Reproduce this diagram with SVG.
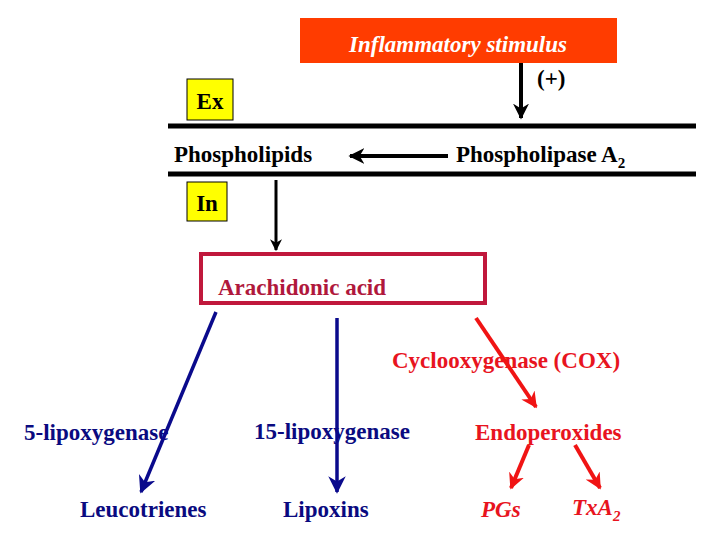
<svg xmlns="http://www.w3.org/2000/svg" width="720" height="540" viewBox="0 0 720 540">
<defs>
<style>
text{font-family:"Liberation Serif","Times New Roman",serif;font-weight:bold;font-size:23px}
.k{fill:#000}.b{fill:#0a0a80}.r{fill:#e8141e}
</style>
<marker id="mk" viewBox="0 0 10 10" refX="9" refY="5" markerWidth="4" markerHeight="5" orient="auto" markerUnits="strokeWidth"><path d="M0,0 L10,5 L0,10 L3,5 z" fill="#000"/></marker>
<marker id="mb" viewBox="0 0 10 10" refX="9" refY="5" markerWidth="5" markerHeight="5" orient="auto" markerUnits="strokeWidth"><path d="M0,0 L10,5 L0,10 L3,5 z" fill="#0a0a8c"/></marker>
<marker id="mr" viewBox="0 0 10 10" refX="9" refY="5" markerWidth="4" markerHeight="4" orient="auto" markerUnits="strokeWidth"><path d="M0,0 L10,5 L0,10 L3,5 z" fill="#f01414"/></marker>
</defs>
<rect width="720" height="540" fill="#fff"/>
<g id="membrane" stroke="#000" stroke-width="5">
<line x1="168" y1="126" x2="696" y2="126"/>
<line x1="168" y1="174" x2="696" y2="174"/>
</g>
<g id="stimulus"><rect x="300" y="18" width="317" height="45" fill="#ff3c00"/>
<text x="458" y="52" text-anchor="middle" fill="#fff" font-style="italic" font-size="27">Inflammatory stimulus</text></g>
<g id="plus"><text x="537" y="86" class="k" font-weight="normal" font-size="24">(+)</text></g>
<g id="ex"><rect x="187" y="79" width="46" height="41" fill="#ffff00" stroke="#000"/><text x="210" y="109" text-anchor="middle" class="k">Ex</text></g>
<g id="in"><rect x="187" y="182" width="40" height="39" fill="#ffff00" stroke="#000"/><text x="207" y="211" text-anchor="middle" class="k">In</text></g>
<g id="phospholipids"><text x="174" y="162" class="k">Phospholipids</text></g>
<g id="pla2"><text x="456" y="162" class="k">Phospholipase A<tspan font-size="15" dy="6">2</tspan></text></g>
<g id="aa"><rect x="201" y="254" width="284" height="49" fill="none" stroke="#c0183c" stroke-width="4"/>
<text x="218" y="295" fill="#b0183c" font-size="26">Arachidonic acid</text></g>
<g id="labels">
<text x="392" y="368" class="r">Cyclooxygenase (COX)</text>
<text x="24" y="440" class="b">5-lipoxygenase</text>
<text x="254" y="439" class="b">15-lipoxygenase</text>
<text x="475" y="440" class="r">Endoperoxides</text>
<text x="80" y="517" class="b">Leucotrienes</text>
<text x="283" y="517" class="b">Lipoxins</text>
<text x="481" y="517" class="r" font-style="italic" font-weight="normal">PGs</text>
<text x="572" y="515" class="r" font-style="italic" font-weight="normal">TxA<tspan font-size="15" dy="6" font-weight="bold">2</tspan></text>
</g>
<g id="connectors" fill="none">
<line x1="521" y1="63" x2="521" y2="118" stroke="#000" stroke-width="4" marker-end="url(#mk)"/>
<line x1="448" y1="156" x2="350" y2="156" stroke="#000" stroke-width="4" marker-end="url(#mk)"/>
<line x1="276" y1="180" x2="276" y2="250" stroke="#000" stroke-width="3" marker-end="url(#mk)"/>
<line x1="216" y1="312" x2="141" y2="492" stroke="#0a0a8c" stroke-width="3.5" marker-end="url(#mb)"/>
<line x1="337" y1="318" x2="337" y2="492" stroke="#0a0a8c" stroke-width="3.5" marker-end="url(#mb)"/>
<line x1="476" y1="318" x2="536" y2="407" stroke="#f01414" stroke-width="4" marker-end="url(#mr)"/>
<line x1="529" y1="445" x2="511" y2="488" stroke="#f01414" stroke-width="4" marker-end="url(#mr)"/>
<line x1="575" y1="445" x2="600" y2="488" stroke="#f01414" stroke-width="4" marker-end="url(#mr)"/>
</g>
</svg>
